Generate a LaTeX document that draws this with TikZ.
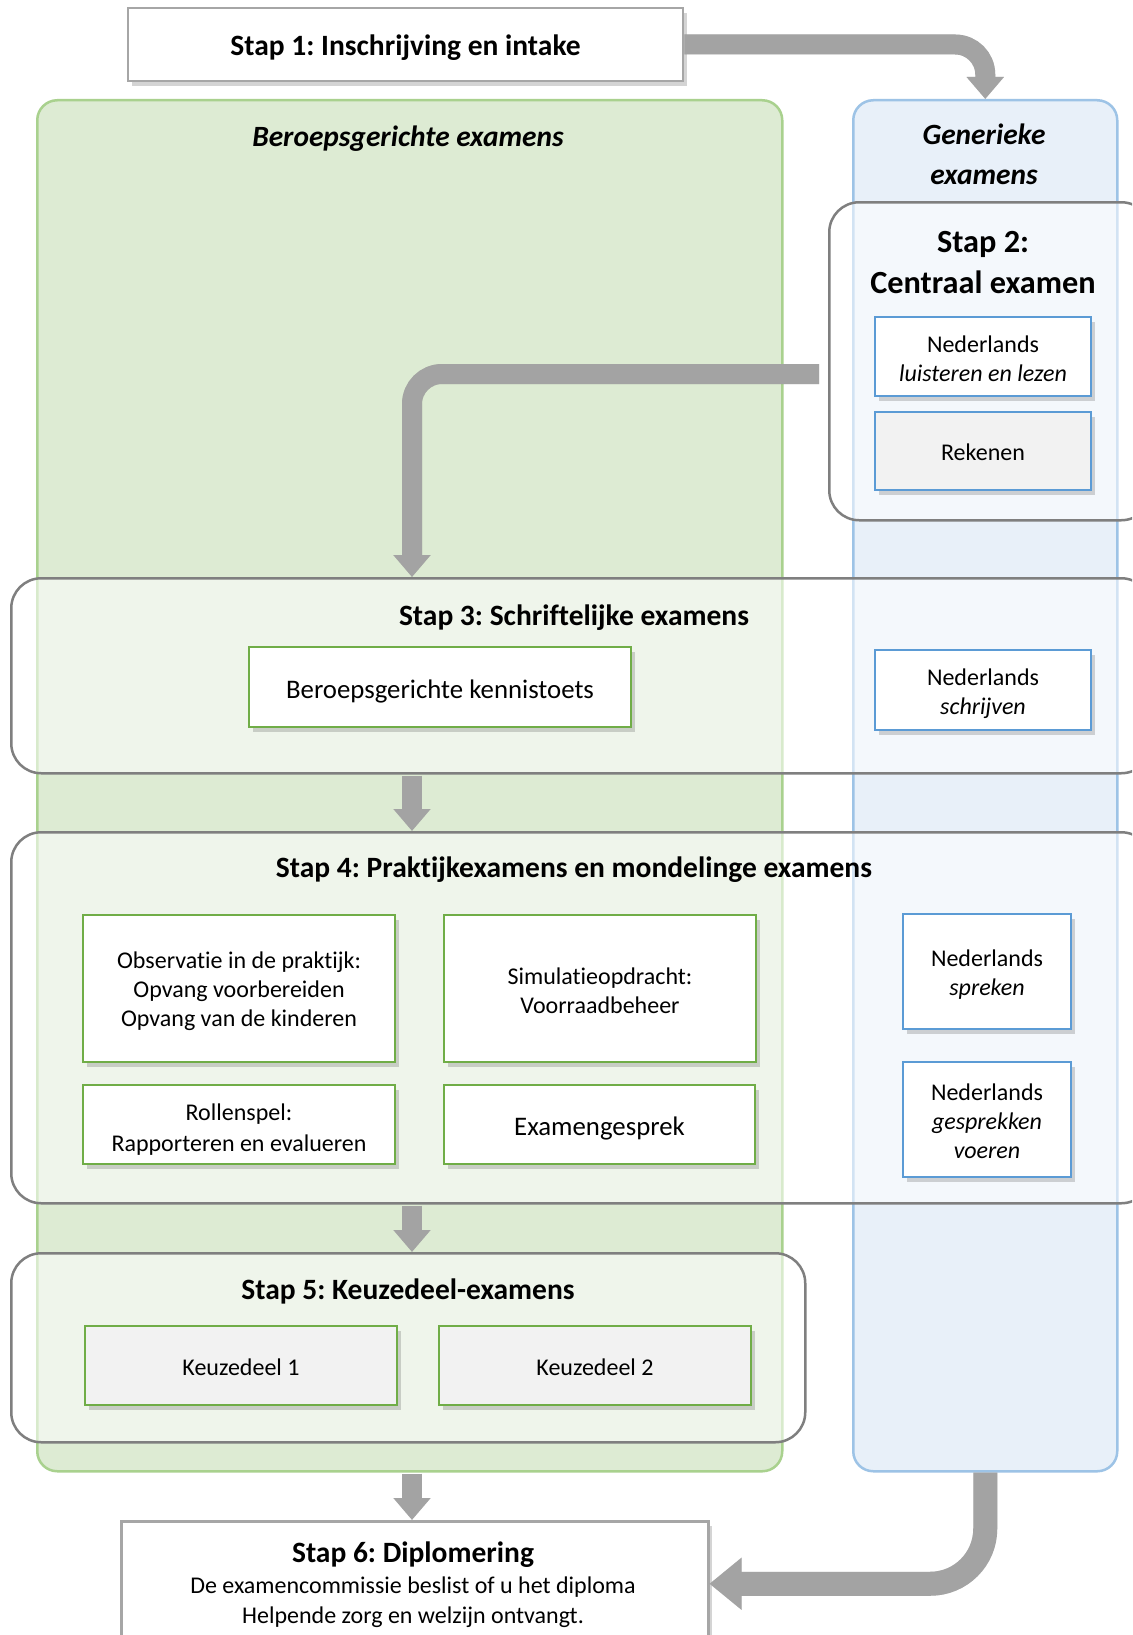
\documentclass[tikz,border=0pt]{standalone}
\usepackage{fontspec}
\setmainfont{Carlito}[Ligatures=NoCommon]
\frenchspacing
\usetikzlibrary{arrows.meta,shadows}
\definecolor{gfill}{HTML}{DDEBD3}
\definecolor{gline}{HTML}{A9D18E}
\definecolor{bfill}{HTML}{E8F0F9}
\definecolor{bline}{HTML}{9DC3E6}
\definecolor{ginner}{HTML}{70AD47}
\definecolor{binner}{HTML}{5B9BD5}
\definecolor{boxgray}{HTML}{F2F2F2}
\definecolor{stapline}{HTML}{7F7F7F}
\definecolor{arrowgray}{HTML}{A3A3A3}
\definecolor{outergray}{HTML}{A6A6A6}
\tikzset{
  panel/.style={rounded corners=20pt, line width=2.5pt, inner sep=0pt, anchor=north west},
  panelgreen/.style={panel, draw=gline, fill=gfill},
  panelblue/.style={panel, draw=bline, fill=bfill},
  stapbox/.style={draw=stapline, line width=2.5pt, rounded corners=30pt, fill=white, fill opacity=0.55, inner sep=0pt, anchor=north west},
  ttl/.style={font=\fontsize{29.5}{36}\selectfont\bfseries, align=center},
  ittl/.style={font=\fontsize{29.4}{40}\selectfont\bfseries\itshape, align=center},
  bigttl/.style={font=\fontsize{32.3}{41}\selectfont\bfseries, align=center},
  txt/.style={align=center, font=\fontsize{24}{29}\selectfont, inner sep=0pt},
  bigtxt/.style={align=center, font=\fontsize{26.8}{31}\selectfont, inner sep=0pt},
  innerbox/.style={line width=2.8pt, inner sep=0pt,
    drop shadow={shadow xshift=4pt, shadow yshift=-5pt, opacity=0.28, fill=black!60}},
  gbox/.style={innerbox, draw=ginner, fill=white},
  ggray/.style={innerbox, draw=ginner, fill=boxgray},
  bbox/.style={innerbox, draw=binner, fill=white},
  bgray/.style={innerbox, draw=binner, fill=boxgray},
  outerbox/.style={draw=outergray, line width=2.5pt, fill=white, inner sep=0pt,
    drop shadow={shadow xshift=4pt, shadow yshift=-5pt, opacity=0.28, fill=black!60}},
  bigarrow/.style={draw=arrowgray, line width=20pt, rounded corners=30pt,
    -{Triangle[width=36pt,length=22pt]}},
  arrowshadow/.style={draw=black, opacity=0.12, line width=20pt, rounded corners=30pt,
    -{Triangle[width=36pt,length=22pt]}, xshift=3pt, yshift=-4pt},
}
\begin{document}
\begin{tikzpicture}[x=1pt,y=-1pt]
\clip (0,0) rectangle (1132,1635);
\fill[white] (0,0) rectangle (1132,1635);

% panels
\node[panelgreen, minimum width=745pt, minimum height=1371pt] (gp) at (36,99) {};
\node[panelblue, minimum width=264pt, minimum height=1371pt] (bp) at (852,99) {};
\node[ittl] (gtitle) at (408,139) {Beroepsgerichte examens};
\node[ittl] (btitle) at (984,154) {Generieke\\examens};

% step boxes
\node[stapbox, minimum width=322pt, minimum height=318pt] (s2) at (828,201) {};
\node[stapbox, minimum width=1140pt, minimum height=195pt] (s3) at (10,577) {};
\node[stapbox, minimum width=1140pt, minimum height=371pt] (s4) at (10,831) {};
\node[stapbox, minimum width=794pt, minimum height=189pt] (s5) at (10,1252) {};

% stap 1
\node[outerbox, minimum width=555pt, minimum height=73pt,
  label={[ttl, yshift=-3pt]center:Stap 1: Inschrijving en intake}] (s1) at (405.5,44.5) {};

% stap 2
\node[bigttl] (s2t) at (983,263) {Stap 2:\\Centraal examen};
\node[bbox, minimum width=216pt, minimum height=79pt,
  label={[txt, yshift=-2pt]center:{Nederlands\\\textit{luisteren en lezen}}}] (nll) at (983,356.5) {};
\node[bgray, minimum width=216pt, minimum height=78pt,
  label={[txt, yshift=-1pt]center:Rekenen}] (rek) at (983,451) {};

% stap 3
\node[ttl] (s3t) at (574,618) {Stap 3: Schriftelijke examens};
\node[gbox, minimum width=382pt, minimum height=80pt,
  label={[bigtxt, yshift=-4pt]center:Beroepsgerichte kennistoets}] (bk) at (440,687) {};
\node[bbox, minimum width=216pt, minimum height=80pt,
  label={[txt, yshift=-4pt]center:{Nederlands\\\textit{schrijven}}}] (ns) at (983,690) {};

% stap 4
\node[ttl] (s4t) at (574,870) {Stap 4: Praktijkexamens en mondelinge examens};
\node[gbox, minimum width=312pt, minimum height=147pt,
  label={[txt, yshift=-3pt]center:{Observatie in de praktijk:\\Opvang voorbereiden\\Opvang van de kinderen}}] (obs) at (239,988.5) {};
\node[gbox, minimum width=312pt, minimum height=147pt,
  label={[txt, yshift=-2pt]center:{Simulatieopdracht:\\Voorraadbeheer}}] (sim) at (600,988.5) {};
\node[gbox, minimum width=312pt, minimum height=79pt,
  label={[txt, font=\fontsize{24}{31}\selectfont, yshift=-5pt]center:{Rollenspel:\\Rapporteren en evalueren}}] (rol) at (239,1124.5) {};
\node[gbox, minimum width=311pt, minimum height=79pt,
  label={[bigtxt, yshift=-4pt]center:Examengesprek}] (exg) at (599.5,1124.5) {};
\node[bbox, minimum width=168pt, minimum height=115pt,
  label={[txt, yshift=-3pt]center:{Nederlands\\\textit{spreken}}}] (nsp) at (987,971.5) {};
\node[bbox, minimum width=168pt, minimum height=115pt,
  label={[txt, yshift=-2pt]center:{Nederlands\\\textit{gesprekken}\\\textit{voeren}}}] (ngv) at (987,1119.5) {};

% stap 5
\node[ttl] (s5t) at (408,1291) {Stap 5: Keuzedeel-examens};
\node[ggray, minimum width=312pt, minimum height=79pt,
  label={[txt, yshift=-2pt]center:Keuzedeel 1}] (k1) at (241,1365.5) {};
\node[ggray, minimum width=312pt, minimum height=79pt,
  label={[txt, yshift=-2pt]center:Keuzedeel 2}] (k2) at (595,1365.5) {};

% stap 6
\node[outerbox, minimum width=587pt, minimum height=125pt, anchor=north west] (s6) at (120,1520) {};
\node[ttl] (s6t) at (413,1555) {Stap 6: Diplomering};
\node[txt, font=\fontsize{24}{30}\selectfont] (s6b) at (413,1602) {De examencommissie beslist of u het diploma\\Helpende zorg en welzijn ontvangt.};

% connectors
\coordinate (colx) at (412,0);
\coordinate (s2out) at (819,374);
\draw[arrowshadow] (s1.east) -| (bp.north);
\draw[bigarrow] (s1.east) -| (bp.north);
\draw[arrowshadow] (s2out) -| (s3.north -| colx);
\draw[bigarrow] (s2out) -| (s3.north -| colx);
\draw[bigarrow, shorten <=1pt] (s3.south -| colx) -- (s4.north -| colx);
\draw[bigarrow, shorten <=1pt] (s4.south -| colx) -- (s5.north -| colx);
\draw[bigarrow, shorten <=1pt] (gp.south -| colx) -- (s6.north -| colx);
\draw[arrowshadow, line width=24pt, rounded corners=55pt, -{Triangle[width=50pt,length=32pt]}] (bp.south) |- (s6.east);
\draw[bigarrow, line width=24pt, rounded corners=55pt, -{Triangle[width=50pt,length=32pt]}] (bp.south) |- (s6.east);
\end{tikzpicture}
\end{document}
